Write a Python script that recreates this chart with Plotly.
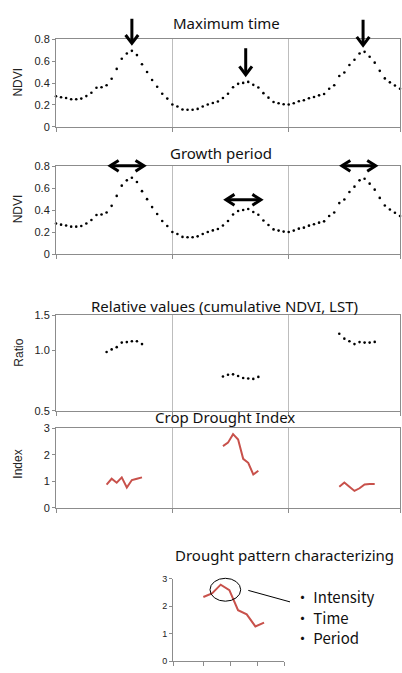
import plotly.graph_objects as go

W, H = 402, 673

# ---------------- data ----------------
# NDVI time series: 3 seasons, 69 composites (index 0..68)
ndvi = [0.28, 0.27, 0.263, 0.252, 0.252, 0.258, 0.281, 0.312, 0.357, 0.362, 0.38, 0.44,
        0.53, 0.623, 0.671, 0.695, 0.656, 0.573, 0.501, 0.429, 0.366, 0.303, 0.258, 0.204,
        0.186, 0.159, 0.156, 0.156, 0.164, 0.186, 0.204, 0.218, 0.231, 0.263, 0.303, 0.362,
        0.393, 0.402, 0.411, 0.384, 0.36, 0.308, 0.267, 0.227, 0.216, 0.207, 0.204,
        0.216, 0.234, 0.243, 0.261, 0.273, 0.288, 0.30, 0.348, 0.38, 0.465, 0.497, 0.566,
        0.614, 0.671, 0.686, 0.641, 0.587, 0.512, 0.443, 0.407, 0.378, 0.348]
ndvi_x = list(range(len(ndvi)))

season_bounds = [0, 23, 46, 68]

# Relative values (ratio) per season
ratio_x1 = [10, 11, 12, 13, 14, 15, 16, 17]
ratio_y1 = [0.983, 1.013, 1.04, 1.096, 1.102, 1.114, 1.114, 1.077]
ratio_x2 = [33, 34, 35, 36, 37, 38, 39, 40]
ratio_y2 = [0.741, 0.757, 0.76, 0.746, 0.729, 0.724, 0.721, 0.738]
ratio_x3 = [56, 57, 58, 59, 60, 61, 62, 63]
ratio_y3 = [1.214, 1.147, 1.114, 1.077, 1.102, 1.096, 1.096, 1.105]

# Crop drought index per season
cdi_x1 = [10, 11, 12, 13, 14, 15, 16, 17]
cdi_y1 = [0.88, 1.10, 0.95, 1.15, 0.77, 1.05, 1.10, 1.15]
cdi_x2 = [33, 34, 35, 36, 37, 38, 39, 40]
cdi_y2 = [2.33, 2.46, 2.78, 2.58, 1.85, 1.70, 1.26, 1.40]
cdi_x3 = [56, 57, 58, 59, 60, 61, 62, 63]
cdi_y3 = [0.80, 0.96, 0.80, 0.64, 0.74, 0.88, 0.90, 0.90]

# Drought pattern (season 2 index, zoomed)
pat_x = [0, 1, 2, 3, 4, 5, 6, 7]
pat_y = cdi_y2

# Peak (maximum time) indices and growth period spans (index units)
peak_idx = [15, 37.5, 60.7]
period_spans = [(10.7, 17.4), (33.6, 40.5), (56.5, 63.2)]

titles = ["Maximum time", "Growth period", "Relative values (cumulative NDVI, LST)",
          "Crop Drought Index", "Drought pattern characterizing"]
bullets = ["・ Intensity", "・ Time", "・ Period"]

# ---------------- layout helpers ----------------
X0, X1 = 56, 400          # pixel extent of the long panels


def xd(a, b):
    return [a / W, b / W]


def yd(top, bottom):
    return [1 - bottom / H, 1 - top / H]


def px_of_index(i):
    return X0 + i * (X1 - X0) / 68.0


def px(x):
    return x / W


def py(y):
    return 1 - y / H


BOX = "#8c8c8c"
GRID = "#bdbdbd"
RED = "#C8514B"
TICKF = dict(family="Liberation Sans, Arial", size=11, color="#222")
TITLEF = dict(family="Noto Sans, Open Sans", size=15, color="#111")

fig = go.Figure()

panels = [
    dict(x=xd(X0, X1), y=yd(34, 123)),
    dict(x=xd(X0, X1), y=yd(163, 253)),
    dict(x=xd(X0, X1), y=yd(315, 412)),
    dict(x=xd(X0, X1), y=yd(430, 511)),
    dict(x=xd(173, 284), y=yd(583, 667)),
]

dot = dict(color="black", size=2.6)
fig.add_trace(go.Scatter(x=ndvi_x, y=ndvi, mode="markers", marker=dot, xaxis="x", yaxis="y", cliponaxis=False))
fig.add_trace(go.Scatter(x=ndvi_x, y=ndvi, mode="markers", marker=dot, xaxis="x2", yaxis="y2", cliponaxis=False))
for rx, ry in [(ratio_x1, ratio_y1), (ratio_x2, ratio_y2), (ratio_x3, ratio_y3)]:
    fig.add_trace(go.Scatter(x=rx, y=ry, mode="markers", marker=dot, xaxis="x3", yaxis="y3"))
for cx, cy in [(cdi_x1, cdi_y1), (cdi_x2, cdi_y2), (cdi_x3, cdi_y3)]:
    fig.add_trace(go.Scatter(x=cx, y=cy, mode="lines", line=dict(color=RED, width=2), xaxis="x4", yaxis="y4"))
fig.add_trace(go.Scatter(x=pat_x, y=pat_y, mode="lines", line=dict(color=RED, width=2), xaxis="x5", yaxis="y5"))

common_x = dict(range=[0, 68], tickvals=season_bounds, showticklabels=False, ticks="outside",
                ticklen=4, tickcolor=BOX, showgrid=True, gridcolor=GRID, gridwidth=1,
                showline=True, linecolor=BOX, linewidth=1, mirror=True, zeroline=False, fixedrange=True)
common_y = dict(ticks="outside", ticklen=3, tickcolor=BOX, showgrid=False, showline=True,
                linecolor=BOX, linewidth=1, mirror=True, zeroline=False, tickfont=TICKF)

lay = {}
for i, p in enumerate(panels[:4]):
    n = "" if i == 0 else str(i + 1)
    lay["xaxis" + n] = dict(domain=p["x"], anchor="y" + n, **common_x)
lay["yaxis"] = dict(domain=panels[0]["y"], anchor="x", range=[0, 0.8], tickvals=[0, 0.2, 0.4, 0.6, 0.8],
                    ticktext=["0", "0.2", "0.4", "0.6", "0.8"], **common_y)
lay["yaxis2"] = dict(domain=panels[1]["y"], anchor="x2", range=[0, 0.8], tickvals=[0, 0.2, 0.4, 0.6, 0.8],
                     ticktext=["0", "0.2", "0.4", "0.6", "0.8"], **common_y)
lay["yaxis3"] = dict(domain=panels[2]["y"], anchor="x3", type="log", range=[-0.30103, 0.176091],
                     tickvals=[0.5, 1.0, 1.5], ticktext=["0.5", "1.0", "1.5"], **common_y)
lay["yaxis4"] = dict(domain=panels[3]["y"], anchor="x4", range=[0, 3], tickvals=[0, 1, 2, 3], **common_y)
lay["xaxis5"] = dict(domain=panels[4]["x"], anchor="y5", range=[-3.5, 9.3], tickvals=[-3.5, 0, 3.1, 6.2, 9.3],
                     showticklabels=False, ticks="outside", ticklen=4, tickcolor=BOX, showgrid=False,
                     showline=True, linecolor=BOX, linewidth=1, zeroline=False)
lay["yaxis5"] = dict(domain=panels[4]["y"], anchor="x5", range=[0, 3], tickvals=[0, 1, 2, 3],
                     ticks="outside", ticklen=3, tickcolor=BOX, showgrid=False, showline=True,
                     linecolor=BOX, linewidth=1, zeroline=False,
                     tickfont=dict(family="Liberation Sans, Arial", size=9, color="#222"))

annotations = []
# titles
title_pos = [(226, 17), (221, 150), (224, 305), (225, 418), (284, 559)]
for t, (cx, cy) in zip(titles, title_pos):
    annotations.append(dict(text=t, x=px(cx), y=py(cy), xref="paper", yref="paper",
                            xanchor="center", yanchor="middle", showarrow=False, font=TITLEF))
# axis titles
axis_titles = [("NDVI", 18, 78), ("NDVI", 18, 207), ("Ratio", 19, 353), ("Index", 18, 467)]
for t, cx, cy in axis_titles:
    annotations.append(dict(text=t, x=px(cx), y=py(cy), xref="paper", yref="paper", textangle=-90,
                            xanchor="center", yanchor="middle", showarrow=False,
                            font=dict(family="Liberation Sans, Arial", size=12, color="#222")))
# bullets
for t, cy in zip(bullets, [601.7, 622.3, 643.3]):
    annotations.append(dict(text=t, x=px(293), y=py(cy), xref="paper", yref="paper",
                            xanchor="left", yanchor="middle", showarrow=False,
                            font=dict(family="Noto Sans CJK JP, Noto Sans", size=15, color="#111")))

shapes = []
ARW = dict(color="black", width=3)


def seg(points):
    return "M " + " L ".join(f"{px(x):.5f},{py(y):.5f}" for x, y in points)


# maximum-time down arrows (shaft top / tip pixel y)
down_y = [(13, 38), (43, 70), (14, 40)]
for i, (ytop, ytip) in zip(peak_idx, down_y):
    x = px_of_index(i)
    shapes.append(dict(type="path", xref="paper", yref="paper", path=seg([(x, ytop), (x, ytip - 1)]), line=ARW))
    shapes.append(dict(type="path", xref="paper", yref="paper",
                       path=seg([(x - 6.3, ytip - 8.5), (x, ytip), (x + 6.3, ytip - 8.5)]), line=ARW))

# growth-period double arrows
period_y = [162.7, 197.3, 162.7]
for (a, b), y in zip(period_spans, period_y):
    xa, xb = px_of_index(a), px_of_index(b)
    shapes.append(dict(type="path", xref="paper", yref="paper", path=seg([(xa + 1, y), (xb - 1, y)]), line=ARW))
    shapes.append(dict(type="path", xref="paper", yref="paper",
                       path=seg([(xa + 8.5, y - 5.5), (xa, y), (xa + 8.5, y + 5.5)]), line=ARW))
    shapes.append(dict(type="path", xref="paper", yref="paper",
                       path=seg([(xb - 8.5, y - 5.5), (xb, y), (xb - 8.5, y + 5.5)]), line=ARW))

# drought pattern ellipse and pointer line
shapes.append(dict(type="circle", xref="paper", yref="paper", x0=px(210), x1=px(240.7),
                   y0=py(606), y1=py(582.7), line=dict(color="black", width=1)))
shapes.append(dict(type="line", xref="paper", yref="paper", x0=px(248.3), x1=px(290),
                   y0=py(595), y1=py(606.7), line=dict(color="black", width=1)))

fig.update_layout(width=W, height=H, margin=dict(l=0, r=0, t=0, b=0), showlegend=False,
                  plot_bgcolor="white", paper_bgcolor="white", annotations=annotations,
                  shapes=shapes, **lay)

fig.write_html("out.html", config={"displayModeBar": False},
               post_script="document.body.style.margin='0';document.body.style.overflow='hidden';")
